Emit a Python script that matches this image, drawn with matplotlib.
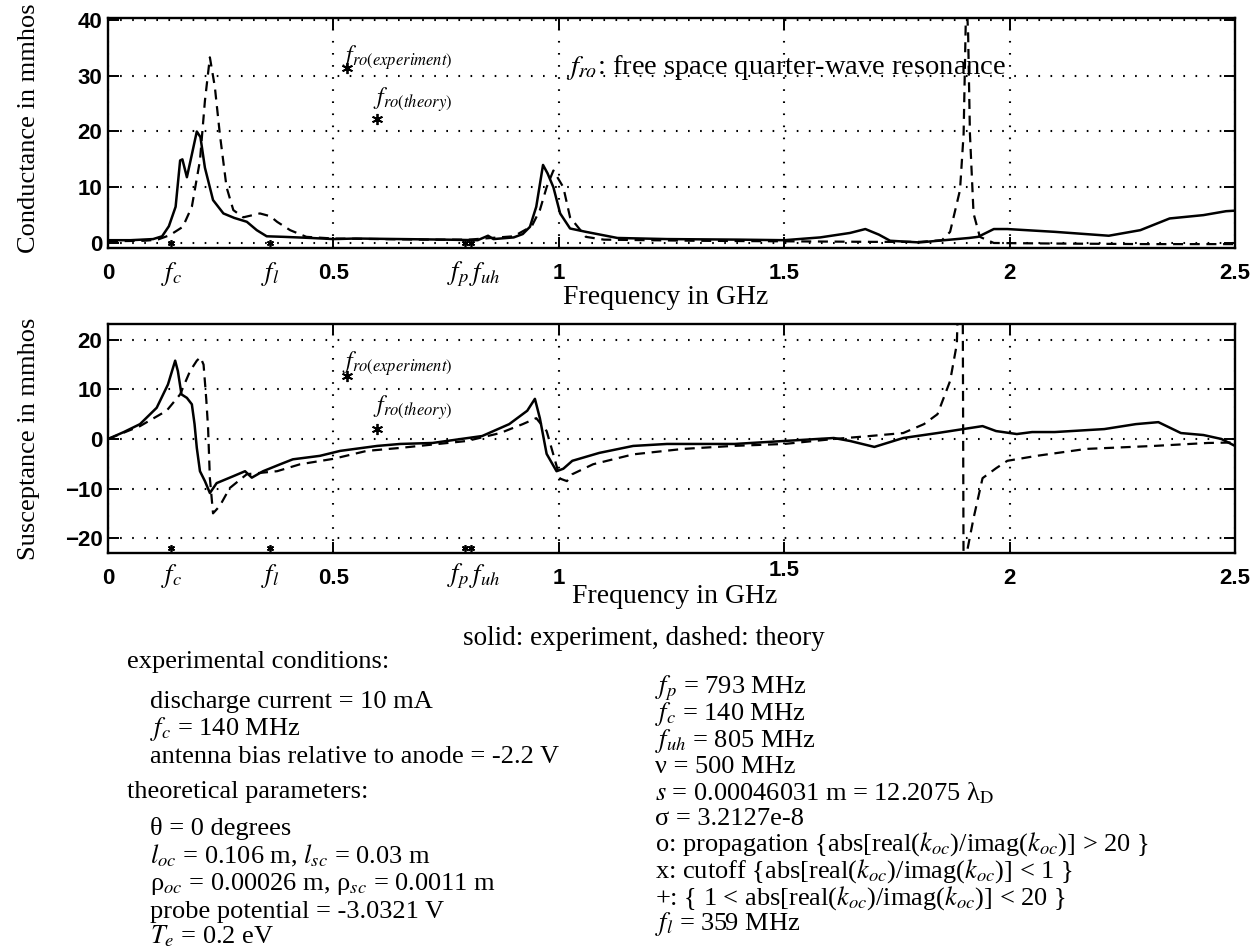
#!/usr/bin/env python3
# -*- coding: utf-8 -*-
"""
Antenna admittance vs frequency: conductance (top) and susceptance (bottom),
experiment (solid) against theory (dashed), with the run parameters listed
underneath.  Writes out.png.
"""
import matplotlib
matplotlib.use("Agg")
import matplotlib.pyplot as plt

W, H = 1259, 951          # output size in pixels (dpi 100)
SERIF = "Liberation Serif"
SANS = "Liberation Sans"

# ----------------------------------------------------------------------
# conductance, mmhos  (frequency in GHz)
g_exp_f = [0, 0.05, 0.10, 0.12, 0.135, 0.15, 0.16, 0.165, 0.175, 0.185,
           0.197, 0.205, 0.215, 0.233, 0.256, 0.28, 0.308, 0.33, 0.352, 0.39,
           0.45, 0.5, 0.55, 0.65, 0.75, 0.82, 0.843, 0.855, 0.9, 0.92,
           0.936, 0.95, 0.965, 0.975, 0.988, 1.003, 1.025, 1.06, 1.13, 1.24,
           1.4, 1.5, 1.58, 1.646, 1.68, 1.71, 1.735, 1.8, 1.91, 1.93,
           1.965, 1.995, 2.1, 2.22, 2.29, 2.355, 2.43, 2.48, 2.5]
g_exp = [0.5, 0.5, 0.7, 1.2, 3.0, 6.5, 14.8, 15.0, 11.8, 15.5,
         20.0, 19.0, 13.5, 7.7, 5.3, 4.5, 3.8, 2.3, 1.2, 1.1,
         0.9, 0.7, 0.8, 0.7, 0.6, 0.5, 1.3, 0.7, 1.0, 1.6,
         2.9, 6.5, 14.0, 12.5, 10.0, 5.3, 2.6, 2.0, 0.9, 0.7,
         0.6, 0.5, 1.0, 1.8, 2.5, 1.5, 0.4, 0.1, 0.9, 1.1,
         2.5, 2.5, 2.0, 1.3, 2.3, 4.4, 5.0, 5.7, 5.8]

g_th_f = [0, 0.08, 0.11, 0.137, 0.166, 0.186, 0.204, 0.215, 0.226, 0.237,
          0.248, 0.263, 0.278, 0.3, 0.337, 0.36, 0.375, 0.404, 0.44, 0.5,
          0.6, 0.7, 0.8, 0.9, 0.94, 0.958, 0.973, 0.988, 1.01, 1.025,
          1.06, 1.1, 1.3, 1.5, 1.7, 1.8, 1.85, 1.868, 1.89, 1.898,
          1.904, 1.908, 1.912, 1.92, 1.934, 1.965, 2.1, 2.3, 2.5]
g_th = [0.3, 0.4, 0.6, 1.4, 2.9, 6.5, 14.8, 25.5, 33.3, 28.0,
        19.6, 10.0, 5.9, 4.6, 5.3, 4.8, 3.8, 2.3, 1.1, 0.8,
        0.7, 0.6, 0.6, 1.2, 3.0, 5.9, 10.0, 13.0, 10.0, 4.6,
        1.1, 0.6, 0.4, 0.3, 0.2, 0.2, 0.5, 2.0, 9.5, 19.6,
        45.0, 37.5, 19.6, 5.3, 1.1, 0.0, -0.1, -0.2, -0.2]

# susceptance, mmhos
b_exp_f = [0, 0.035, 0.071, 0.108, 0.133, 0.149, 0.155, 0.163, 0.175, 0.186,
           0.192, 0.197, 0.204, 0.215, 0.226, 0.241, 0.278, 0.304, 0.319, 0.344,
           0.382, 0.41, 0.47, 0.515, 0.597, 0.648, 0.72, 0.83, 0.89, 0.93,
           0.947, 0.958, 0.973, 0.995, 1.01, 1.03, 1.09, 1.165, 1.24, 1.39,
           1.5, 1.61, 1.646, 1.70, 1.764, 1.84, 1.897, 1.94, 1.97, 2.016,
           2.05, 2.1, 2.21, 2.28, 2.33, 2.38, 2.43, 2.47, 2.5]
b_exp = [0, 1.4, 3.0, 6.3, 11.0, 15.8, 13.7, 9.0, 8.3, 7.0,
         3.0, -1.8, -6.5, -8.5, -10.9, -8.9, -7.5, -6.5, -7.8, -6.5,
         -5.1, -4.1, -3.4, -2.4, -1.4, -1.0, -0.8, 0.6, 3.0, 5.7,
         8.1, 4.2, -3.0, -6.5, -6.0, -4.4, -2.8, -1.4, -1.0, -1.0,
         -0.4, 0.2, -0.4, -1.6, 0.2, 1.2, 2.0, 2.6, 1.6, 1.0,
         1.4, 1.4, 2.0, 3.0, 3.4, 1.2, 0.8, 0.0, -1.4]

b_th_f = [0, 0.071, 0.13, 0.16, 0.182, 0.197, 0.205, 0.212, 0.218, 0.222,
          0.226, 0.233, 0.248, 0.27, 0.308, 0.375, 0.426, 0.5, 0.574, 0.648,
          0.796, 0.87, 0.92, 0.95, 0.973, 0.99, 1.003, 1.018, 1.03, 1.076,
          1.165, 1.276, 1.386, 1.5, 1.61, 1.69, 1.764, 1.81, 1.84, 1.868,
          1.883, 1.895, 1.899, 1.905, 1.92, 1.94, 1.97, 1.995, 2.06, 2.17,
          2.32, 2.44, 2.5]
b_th = [0, 2.6, 5.7, 9.0, 13.7, 15.8, 16.5, 15.0, 8.0, 2.2,
        -7.9, -15.0, -13.5, -9.9, -7.1, -6.5, -5.1, -4.0, -2.4, -1.8,
        -0.4, 1.2, 3.0, 4.2, 1.6, -3.8, -8.0, -8.5, -7.1, -5.1,
        -3.1, -2.0, -1.4, -1.0, 0.0, 0.6, 1.2, 3.0, 5.0, 11.7,
        19.2, 60.0, -60.0, -23.0, -16.0, -7.9, -5.9, -4.4, -3.4, -2.0,
        -1.4, -0.8, -0.7]

# characteristic frequencies, GHz
F_MARKS = [0.140, 0.359, 0.793, 0.805]
# quarter-wave resonance markers: frequency, conductance, susceptance
FRO_EXP = (0.53, 31.4, 12.7)
FRO_TH = (0.597, 22.3, 2.0)

XTICKS = [0, 0.5, 1, 1.5, 2, 2.5]
XTICKLABELS = ["0", "0.5", "1", "1.5", "2", "2.5"]
G_YTICKS = [0, 10, 20, 30, 40]
B_YTICKS = [-20, -10, 0, 10, 20]

plt.rcParams["mathtext.fontset"] = "stix"
plt.rcParams["font.family"] = SERIF

ASTER = (6, 2, 0)


def px(x, y):
    """pixel (from top-left) -> figure fraction"""
    return x / W, 1 - y / H


def style_axes(ax, yticks, ylim):
    ax.set_xlim(0, 2.5)
    ax.set_ylim(*ylim)
    ax.set_xticks(XTICKS)
    ax.set_xticklabels(XTICKLABELS)
    ax.set_yticks(yticks)
    ax.tick_params(direction="in", top=True, right=True, length=8,
                   width=1.4, labelsize=16, pad=4)
    ax.tick_params(axis="x", pad=11)
    for lab in ax.get_xticklabels() + ax.get_yticklabels():
        lab.set_fontfamily(SANS)
        lab.set_fontweight("bold")
    ax.grid(True, color="black", lw=1.5, ls=(0, (0.8, 5)))
    for s in ax.spines.values():
        s.set_linewidth(1.7)


def freq_labels(ax, y_axes):
    tr = ax.get_xaxis_transform()
    kw = dict(transform=tr, va="center", fontsize=19, clip_on=False)
    ax.text(0.14, y_axes, r"$f_c$", ha="center", **kw)
    ax.text(0.359, y_axes, r"$f_l$", ha="center", **kw)
    ax.text(0.80, y_axes, r"$f_p$", ha="right", **kw)
    ax.text(0.80, y_axes, r"$f_{uh}$", ha="left", **kw)


fig = plt.figure(figsize=(W / 100, H / 100), dpi=100)

# ---------------- conductance --------------------------------------
ax1 = fig.add_axes([108 / W, 1 - 248 / H, 1127 / W, 230 / H])
ax1.plot(g_exp_f, g_exp, color="black", lw=1.8)
ax1.plot(g_th_f, g_th, color="black", lw=1.6, ls=(0, (4.5, 3)))
ax1.plot(F_MARKS, [0] * len(F_MARKS), ls="none", marker=ASTER, ms=5,
         mew=1.2, color="black")
ax1.plot([FRO_EXP[0], FRO_TH[0]], [FRO_EXP[1], FRO_TH[1]], ls="none",
         marker=ASTER, ms=8, mew=1.3, color="black")
style_axes(ax1, G_YTICKS, (-0.9, 40.36))
ax1.text(FRO_EXP[0] - 0.01, 33.2, r"$f_{ro(experiment)}$", fontsize=17,
         va="center", ha="left")
ax1.text(FRO_TH[0] - 0.01, 25.8, r"$f_{ro(theory)}$", fontsize=17,
         va="center", ha="left")
ax1.text(1.015, 31.4, r"$f_{ro}$: free space quarter-wave resonance",
         fontsize=20.5, va="center", ha="left")
ax1.set_ylabel("Conductance in mmhos", fontsize=19)
ax1.yaxis.set_label_coords(-0.060, 0.52)
ax1.set_xlabel("Frequency in GHz", fontsize=20)
ax1.xaxis.set_label_coords(0.495, -0.16)
freq_labels(ax1, -0.115)

# ---------------- susceptance --------------------------------------
ax2 = fig.add_axes([108 / W, 1 - 553 / H, 1127 / W, 229 / H])
ax2.plot(b_exp_f, b_exp, color="black", lw=1.8)
ax2.plot(b_th_f, b_th, color="black", lw=1.6, ls=(0, (4.5, 3)))
ax2.plot(F_MARKS, [-22] * len(F_MARKS), ls="none", marker=ASTER, ms=5,
         mew=1.2, color="black")
ax2.plot([FRO_EXP[0], FRO_TH[0]], [FRO_EXP[2], FRO_TH[2]], ls="none",
         marker=ASTER, ms=8, mew=1.3, color="black")
style_axes(ax2, B_YTICKS, (-23.0, 23.2))
ax2.text(FRO_EXP[0] - 0.01, 15.2, r"$f_{ro(experiment)}$", fontsize=17,
         va="center", ha="left")
ax2.text(FRO_TH[0] - 0.01, 6.3, r"$f_{ro(theory)}$", fontsize=17,
         va="center", ha="left")
ax2.set_ylabel("Susceptance in mmhos", fontsize=19)
ax2.yaxis.set_label_coords(-0.060, 0.5)
ax2.set_xlabel("Frequency in GHz", fontsize=20)
ax2.xaxis.set_label_coords(0.503, -0.135)
freq_labels(ax2, -0.10)
for lab in ax2.get_xticklabels():
    if lab.get_text() == "1.5":
        lab.set_y(0.035)

# ---------------- parameter listing ---------------------------------
TXT = dict(fontsize=19, va="baseline", ha="left")
fig.text(*px(644, 645), "solid: experiment, dashed: theory", fontsize=19.5,
         va="baseline", ha="center")

left = [
    (127, 668, "experimental conditions:"),
    (150, 708, "discharge current = 10 mA"),
    (150, 735, r"$f_c$ = 140 MHz"),
    (150, 763, "antenna bias relative to anode = -2.2 V"),
    (127, 798, "theoretical parameters:"),
    (150, 835, "θ = 0 degrees"),
    (150, 863, r"$l_{oc}$ = 0.106 m, $l_{sc}$ = 0.03 m"),
    (150, 890, r"ρ$_{oc}$ = 0.00026 m, ρ$_{sc}$ = 0.0011 m"),
    (150, 918, "probe potential = -3.0321 V"),
    (150, 943, r"$T_e$ = 0.2 eV"),
]
right = [
    (655, 693, r"$f_p$ = 793 MHz"),
    (655, 720, r"$f_c$ = 140 MHz"),
    (655, 747, r"$f_{uh}$ = 805 MHz"),
    (655, 773, "ν = 500 MHz"),
    (655, 800, r"$s$ = 0.00046031 m = 12.2075 λ$_{\rm D}$"),
    (655, 825, "σ = 3.2127e-8"),
    (655, 851, r"o: propagation {abs[real($k_{oc}$)/imag($k_{oc}$)] > 20 }"),
    (655, 878, r"x: cutoff {abs[real($k_{oc}$)/imag($k_{oc}$)] < 1 }"),
    (655, 905, r"+: { 1 < abs[real($k_{oc}$)/imag($k_{oc}$)] < 20 }"),
    (655, 930, r"$f_l$ = 359 MHz"),
]
for x, y, s in left + right:
    fig.text(*px(x, y), s, **TXT)

fig.savefig("out.png", dpi=100)
